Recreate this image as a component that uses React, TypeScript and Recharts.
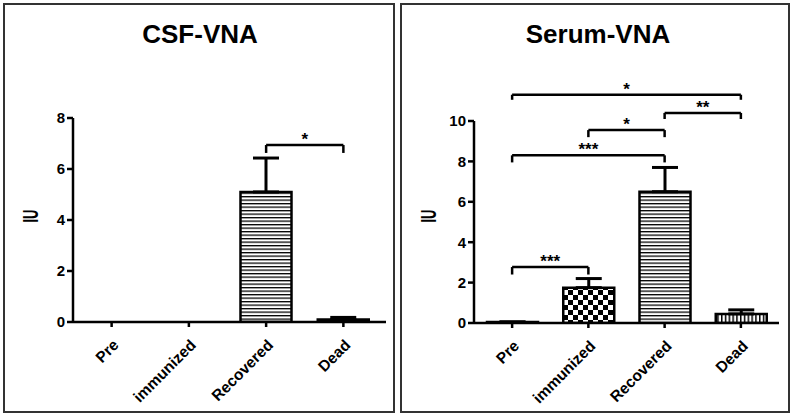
import React from "react";
import { BarChart, Bar, XAxis, YAxis, Cell, ErrorBar, ReferenceLine } from "recharts";

const categories = ["Pre", "immunized", "Recovered", "Dead"];

// CSF-VNA panel
const csfMeans = [0, 0, 5.1, 0.1];
const csfErrors = [0, 0, 1.33, 0.08];
const csfTicks = [0, 2, 4, 6, 8];
const csfBrackets = [
    { from: "Recovered", to: "Dead", y: 6.94, end: 6.63, label: "*" },
];

// Serum-VNA panel
const serumMeans = [0.05, 1.75, 6.5, 0.45];
const serumErrors = [0, 0.45, 1.2, 0.2];
const serumTicks = [0, 2, 4, 6, 8, 10];
const serumBrackets = [
    { from: "Pre", to: "immunized", y: 2.77, end: 2.4, label: "***" },
    { from: "Pre", to: "Recovered", y: 8.3, end: 7.95, label: "***" },
    { from: "immunized", to: "Recovered", y: 9.55, end: 9.2, label: "*" },
    { from: "Recovered", to: "Dead", y: 10.4, end: 10.1, label: "**" },
    { from: "Pre", to: "Dead", y: 11.3, end: 11.05, label: "*" },
];

const fills = ["#ffffff", "url(#checks)", "url(#hstripes)", "url(#vstripes)"];

const FONT = "'Liberation Sans', Arial, sans-serif";

const AngledTick = (props: any) => {
    const { x, y, payload } = props;
    return (
        <g transform={`translate(${x + 8},${y + 17})`}>
            <text
                x={0}
                y={0}
                textAnchor="end"
                transform="rotate(-45)"
                fontSize={15.5}
                fontWeight="bold"
                fill="#000"
            >
                {payload.value}
            </text>
        </g>
    );
};

interface PanelProps {
    left: number;
    width: number;
    title: string;
    titleX: number;
    means: number[];
    errors: number[];
    ticks: number[];
    brackets: { from: string; to: string; y: number; end: number; label: string }[];
    plotTop: number;
    plotBottom: number;
    axisWidth: number;
    right: number;
    padRight: number;
    iuX: number;
}

function Panel(p: PanelProps) {
    const data = categories.map((c, i) => ({
        name: c,
        value: p.means[i],
        err: [0, p.errors[i]],
    }));
    const max = p.ticks[p.ticks.length - 1];

    const lines: React.ReactNode[] = [];
    p.brackets.forEach((b, i) => {
        lines.push(
            <ReferenceLine
                key={`h${i}`}
                segment={[{ x: b.from, y: b.y }, { x: b.to, y: b.y }]}
                stroke="#000"
                strokeWidth={2.5}
                ifOverflow="visible"
                label={{ value: b.label, position: "top", fill: "#000", fontSize: 17, fontWeight: "bold", offset: 0 }}
            />,
            <ReferenceLine
                key={`l${i}`}
                segment={[{ x: b.from, y: b.y }, { x: b.from, y: b.end }]}
                stroke="#000"
                strokeWidth={2.5}
                ifOverflow="visible"
            />,
            <ReferenceLine
                key={`r${i}`}
                segment={[{ x: b.to, y: b.y }, { x: b.to, y: b.end }]}
                stroke="#000"
                strokeWidth={2.5}
                ifOverflow="visible"
            />
        );
    });

    return (
        <>
            <div
                style={{
                    position: "absolute",
                    left: p.titleX - 150,
                    width: 300,
                    top: 21,
                    textAlign: "center",
                    fontSize: 26,
                    lineHeight: "26px",
                    fontWeight: "bold",
                }}
            >
                {p.title}
            </div>
            <div
                style={{
                    position: "absolute",
                    left: p.iuX - 20,
                    top: 204,
                    width: 40,
                    textAlign: "center",
                    fontSize: 20,
                    lineHeight: "24px",
                    fontWeight: "bold",
                    transform: "rotate(-90deg) scale(0.65, 1.1)",
                }}
            >
                IU
            </div>
            <div style={{ position: "absolute", left: p.left, top: 0 }}>
                <BarChart
                    width={p.width}
                    height={416}
                    data={data}
                    margin={{ top: p.plotTop, right: p.right, bottom: 0, left: 0 }}
                    barSize={51}
                >
                    <XAxis
                        dataKey="name"
                        height={416 - p.plotBottom}
                        stroke="#000"
                        strokeWidth={2.5}
                        tickSize={5}
                        tickMargin={2}
                        padding={{ left: 0, right: p.padRight }}
                        tick={<AngledTick />}
                        interval={0}
                    />
                    <YAxis
                        width={p.axisWidth}
                        domain={[0, max]}
                        ticks={p.ticks}
                        allowDataOverflow
                        stroke="#000"
                        strokeWidth={2.5}
                        tickSize={6}
                        tickMargin={2}
                        tick={{ fill: "#000", fontSize: 15, fontWeight: "bold" }}
                    />
                    <Bar dataKey="value" stroke="#000" strokeWidth={2.5} isAnimationActive={false}>
                        {data.map((d, i) => (
                            <Cell key={d.name} fill={fills[i]} />
                        ))}
                        <ErrorBar dataKey="err" width={13} stroke="#000" strokeWidth={3} direction="y" />
                    </Bar>
                    {lines}
                </BarChart>
            </div>
        </>
    );
}

export default function App() {
    return (
        <div
            style={{
                position: "absolute",
                left: 0,
                top: 0,
                width: 793,
                height: 416,
                background: "#fff",
                fontFamily: FONT,
                color: "#000",
            }}
        >
            <svg width={0} height={0} style={{ position: "absolute" }}>
                <defs>
                    <pattern id="hstripes" width={6} height={3.5} patternUnits="userSpaceOnUse">
                        <rect width={6} height={3.5} fill="#fff" />
                        <rect y={0} width={6} height={1.3} fill="#000" />
                    </pattern>
                    <pattern id="vstripes" width={3.8} height={6} patternUnits="userSpaceOnUse">
                        <rect width={3.8} height={6} fill="#fff" />
                        <rect x={0} width={1.5} height={6} fill="#000" />
                    </pattern>
                    <pattern id="checks" width={10} height={10} patternUnits="userSpaceOnUse">
                        <rect width={10} height={10} fill="#fff" />
                        <rect x={0} y={0} width={5} height={5} fill="#000" />
                        <rect x={5} y={5} width={5} height={5} fill="#000" />
                    </pattern>
                </defs>
            </svg>
            <div
                style={{
                    position: "absolute",
                    left: 3,
                    top: 3,
                    width: 392,
                    height: 410,
                    border: "2px solid #333",
                    boxSizing: "border-box",
                }}
            />
            <div
                style={{
                    position: "absolute",
                    left: 400,
                    top: 3,
                    width: 390,
                    height: 410,
                    border: "2px solid #333",
                    boxSizing: "border-box",
                }}
            />
            <Panel
                left={0}
                width={396}
                title="CSF-VNA"
                titleX={200}
                means={csfMeans}
                errors={csfErrors}
                ticks={csfTicks}
                brackets={csfBrackets}
                plotTop={118}
                plotBottom={322}
                axisWidth={73}
                right={10}
                padRight={4}
                iuX={30}
            />
            <Panel
                left={398}
                width={395}
                title="Serum-VNA"
                titleX={598}
                means={serumMeans}
                errors={serumErrors}
                ticks={serumTicks}
                brackets={serumBrackets}
                plotTop={121}
                plotBottom={323}
                axisWidth={76}
                right={14}
                padRight={0}
                iuX={428}
            />
        </div>
    );
}
